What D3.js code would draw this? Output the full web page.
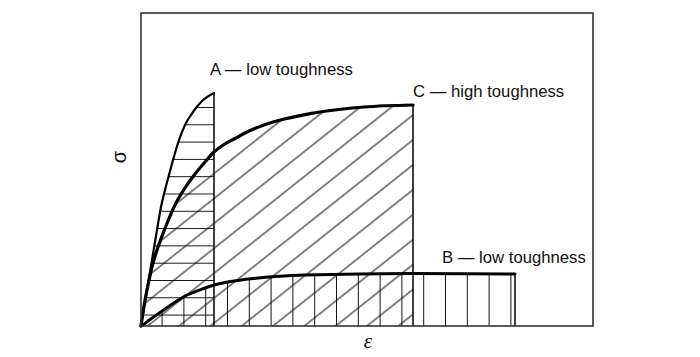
<!DOCTYPE html>
<html><head><meta charset="utf-8">
<script src="https://cdn.jsdelivr.net/npm/d3@7"></script>
<style>html,body{margin:0;padding:0;background:#fff;} svg{display:block;}</style>
</head><body>
<svg id="chart" width="700" height="357"></svg>
<script>
// ---- data (strain, stress in arbitrary units 0..100) ----
const seriesNames = ["A", "B", "C"];
const seriesLabels = ["A \u2014 low toughness", "B \u2014 low toughness", "C \u2014 high toughness"];
const strainA = [0, 0.885, 1.77, 2.65, 3.54, 4.42, 5.31, 6.19, 7.08, 8.19, 9.73, 11.50, 13.50, 16.15];
const stressA = [0, 7.67, 15.34, 23.00, 30.67, 38.02, 43.45, 48.24, 53.04, 58.47, 64.22, 68.37, 71.88, 74.44];
const strainB = [0, 0.44, 1.55, 3.10, 5.97, 9.73, 13.50, 16.15, 18.58, 25.88, 36.28, 59.96, 82.74];
const stressB = [0, 0.32, 1.60, 3.19, 6.07, 9.58, 11.80, 13.10, 13.90, 15.34, 16.29, 16.80, 16.60];
const strainC = [0, 0.66, 1.55, 2.43, 3.32, 4.65, 5.97, 7.52, 9.73, 11.95, 14.16, 16.15, 18.36, 20.58, 23.89, 27.21, 38.27, 49.34, 60.18];
const stressC = [0, 6.39, 13.10, 18.85, 23.32, 28.75, 33.55, 38.66, 44.09, 48.56, 52.40, 55.59, 57.99, 59.74, 62.30, 64.22, 68.05, 69.97, 70.61];
const xAxisLabel = "\u03b5";
const yAxisLabel = "\u03c3";

const svg = d3.select("#chart");
const x = d3.scaleLinear().domain([0, 100]).range([141, 593]);
const y = d3.scaleLinear().domain([0, 100]).range([326, 13]);

const zip = (xs, ys) => xs.map((v, i) => [v, ys[i]]);
const series = {
  A: zip(strainA, stressA),
  B: zip(strainB, stressB),
  C: zip(strainC, stressC)
};

const defs = svg.append("defs");
// horizontal hatch (A)
const pH = defs.append("pattern").attr("id", "hatchH").attr("patternUnits", "userSpaceOnUse")
  .attr("x", 0).attr("y", 107).attr("width", 10).attr("height", 17.3);
pH.append("line").attr("x1", 0).attr("x2", 10).attr("y1", 0.5).attr("y2", 0.5)
  .attr("stroke", "#111").attr("stroke-width", 1.1).attr("shape-rendering", "crispEdges");
// vertical hatch (B)
const pV = defs.append("pattern").attr("id", "hatchV").attr("patternUnits", "userSpaceOnUse")
  .attr("x", 227).attr("y", 0).attr("width", 21.8).attr("height", 10);
pV.append("line").attr("x1", 0.5).attr("x2", 0.5).attr("y1", 0).attr("y2", 10)
  .attr("stroke", "#111").attr("stroke-width", 1.1).attr("shape-rendering", "crispEdges");
// diagonal hatch (C)
const pD = defs.append("pattern").attr("id", "hatchD").attr("patternUnits", "userSpaceOnUse")
  .attr("width", 40).attr("height", 19.5)
  .attr("patternTransform", "translate(273,326) rotate(-38.5)");
pD.append("line").attr("x1", 0).attr("x2", 40).attr("y1", 0).attr("y2", 0)
  .attr("stroke", "#000").attr("stroke-width", 1.15);
pD.append("line").attr("x1", 0).attr("x2", 40).attr("y1", 19.5).attr("y2", 19.5)
  .attr("stroke", "#000").attr("stroke-width", 1.15);

const area = d3.area().x(d => x(d[0])).y0(y(0)).y1(d => y(d[1])).curve(d3.curveMonotoneX);
const line = d3.line().x(d => x(d[0])).y(d => y(d[1])).curve(d3.curveMonotoneX);

// hatched regions
svg.append("path").attr("d", area(series.C)).attr("fill", "url(#hatchD)");
svg.append("path").attr("d", area(series.A)).attr("fill", "url(#hatchH)");
svg.append("path").attr("d", area(series.B)).attr("fill", "url(#hatchV)");

// end verticals
seriesNames.forEach(k => {
  const last = series[k][series[k].length - 1];
  svg.append("line")
    .attr("x1", x(last[0])).attr("x2", x(last[0]))
    .attr("y1", y(last[1])).attr("y2", y(0))
    .attr("stroke", "#111").attr("stroke-width", 1.6);
});

// curves
const widths = { A: 2.2, B: 3, C: 3.2 };
seriesNames.forEach(k => {
  svg.append("path").attr("d", line(series[k])).attr("fill", "none")
    .attr("stroke", "#000").attr("stroke-width", widths[k])
    .attr("stroke-linecap", "round").attr("stroke-linejoin", "round");
});

// frame
svg.append("rect")
  .attr("x", x(0)).attr("y", y(100))
  .attr("width", x(100) - x(0)).attr("height", y(0) - y(100))
  .attr("fill", "none").attr("stroke", "#333").attr("stroke-width", 1.6);

// labels
const labelPos = { A: [210, 75], B: [442, 263], C: [413, 97] };
seriesNames.forEach((k, i) => {
  svg.append("text").attr("x", labelPos[k][0]).attr("y", labelPos[k][1])
    .attr("font-family", "'Liberation Sans', Arial, sans-serif")
    .attr("font-size", 16.7).attr("fill", "#111")
    .text(seriesLabels[i]);
});

svg.append("text").attr("x", 368).attr("y", 348)
  .attr("text-anchor", "middle")
  .attr("font-family", "'Liberation Serif', 'Times New Roman', serif")
  .attr("font-style", "italic").attr("font-size", 21).attr("fill", "#111")
  .text(xAxisLabel);

svg.append("text")
  .attr("transform", "translate(126,157) rotate(-90)")
  .attr("text-anchor", "middle")
  .attr("font-family", "'Liberation Sans', Arial, sans-serif")
  .attr("font-size", 20).attr("fill", "#111")
  .text(yAxisLabel);
</script>
</body></html>
